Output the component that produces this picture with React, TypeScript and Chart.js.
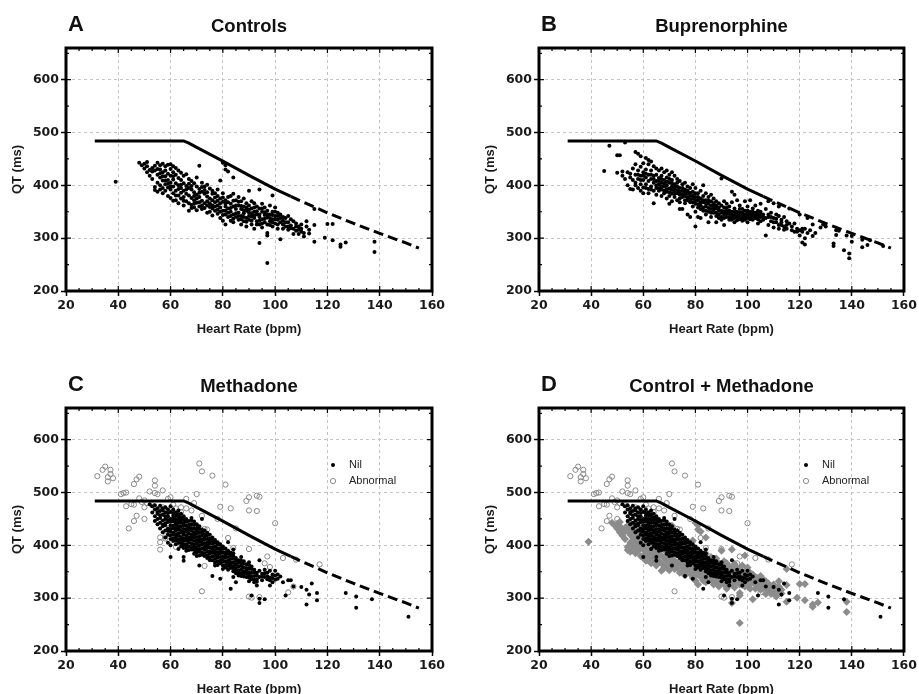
import React, { useEffect, useRef } from "react";
import { Chart, registerables } from "chart.js";
Chart.register(...registerables);

// ---------- axes ----------
const xTicks = [20, 40, 60, 80, 100, 120, 140, 160];
const yTicks = [200, 300, 400, 500, 600];
const xMin = 20, xMax = 160, yMin = 200, yMax = 660;
const xMinorStep = 5, yMinorStep = 50;

// ---------- reference nomogram line ----------
const refSolidHR = [31, 65, 67, 70, 80, 90, 100, 106];
const refSolidQT = [484, 484, 480, 472, 446, 419, 393, 379];
const refDashedHR = [106, 110, 120, 130, 140, 150, 155];
const refDashedQT = [379, 370, 348, 328, 309, 291, 281];

const legendLabels = ["Nil", "Abnormal"];

// ---------- A: Controls (HR, QT) ----------
const controlsPts = [
  [39,407],
  [48,443],[49,438],[50,441],[50,432],[51,436],[52,429],[51,425],[52,418],[53,433],[53,412],[54,437],[54,428],[54,397],[54,391],
  [55,443],[55,420],[55,405],[55,388],[56,438],[56,430],[56,415],[56,400],[56,392],[57,441],[57,425],[57,409],[57,395],[57,385],
  [58,436],[58,428],[58,417],[58,402],[58,390],[59,439],[59,422],[59,410],[59,396],[59,380],[60,440],[60,431],[60,418],[60,405],
  [60,392],[60,376],[61,436],[61,425],[61,411],[61,398],[61,385],[61,371],[62,433],[62,420],[62,404],[62,390],[62,372],[63,428],
  [63,414],[63,400],[63,381],[63,366],[64,424],[64,410],[64,395],[64,386],[64,375],[65,418],[65,404],[65,390],[65,378],[65,362],
  [66,421],[66,399],[66,384],[66,370],[67,412],[67,395],[67,381],[67,352],[68,408],[68,392],[68,376],[68,363],[69,404],[69,387],
  [69,372],[69,358],[70,415],[70,398],[70,382],[70,367],[71,437],[71,393],[71,378],[71,360],[72,405],[72,388],[72,371],[72,355],
  [73,398],[73,384],[73,366],[74,401],[74,379],[74,362],[74,348],[75,394],[75,375],[75,359],[76,390],[76,372],[76,356],[76,343],
  [77,385],[77,368],[77,352],[78,392],[78,380],[78,362],[78,346],[79,409],[79,375],[79,358],[79,338],[80,443],[80,385],[80,369],
  [80,352],[80,333],[81,438],[81,430],[81,372],[81,360],[81,345],[81,326],[82,426],[82,378],[82,356],[82,340],[83,380],[83,365],
  [83,350],[83,333],[84,415],[84,384],[84,360],[84,345],[84,330],[85,372],[85,355],[85,340],[86,378],[86,362],[86,348],[86,335],
  [87,370],[87,355],[87,342],[87,326],[88,375],[88,360],[88,347],[88,332],[89,366],[89,352],[89,338],[89,322],[90,390],[90,362],
  [90,348],[90,335],[91,370],[91,356],[91,341],[91,326],[92,366],[92,350],[92,338],[92,318],[93,360],[93,345],[93,332],[94,392],
  [94,356],[94,340],[94,326],[94,291],[95,365],[95,350],[95,336],[95,320],[96,358],[96,344],[96,330],[97,352],[97,339],[97,310],
  [97,305],[97,253],[98,362],[98,345],[98,332],[99,381],[99,350],[99,336],[99,322],[100,358],[100,342],[100,328],[101,348],
  [101,335],[101,318],[102,345],[102,330],[102,298],[103,340],[103,326],[104,338],[104,322],[105,342],[105,330],[105,316],
  [106,336],[106,324],[107,332],[107,318],[107,308],[108,328],[108,314],[109,322],[109,308],[110,326],[110,312],[111,303],
  [112,332],[113,316],[115,355],[115,325],[115,293],[119,301],[120,327],[122,327],[122,296],[125,288],[125,284],[127,292],
  [138,293],[138,274],
  [51,444],[53,426],[55,431],[56,423],[57,417],[58,409],[59,403],[60,398],[61,417],[62,381],[63,393],[64,401],[65,371],[66,392],
  [67,403],[67,366],[68,399],[68,357],[69,380],[69,365],[70,375],[70,353],[71,386],[71,368],[72,397],[72,362],[73,391],[73,357],
  [74,387],[74,370],[75,366],[75,350],[76,384],[76,362],[77,377],[77,360],[78,371],[78,354],[79,366],[79,350],[80,377],[80,344],
  [81,365],[81,352],[82,368],[82,348],[83,357],[83,342],[84,371],[84,337],[85,362],[85,347],[86,369],[86,342],[87,361],[87,336],
  [88,353],[88,340],[89,358],[89,331],[90,354],[90,342],[91,347],[91,333],[92,358],[92,343],[93,351],[93,326],[94,345],[94,333],
  [95,356],[95,328],[96,349],[96,337],[97,345],[97,326],[98,338],[98,325],[99,344],[99,330],[100,350],[100,336],[101,342],
  [101,326],[102,338],[103,333],[103,318],[104,330],[105,322],[106,319],[108,322],[109,316],[110,318],[111,310],[112,322],[113,309],
];

// ---------- B: Buprenorphine ----------
const buprenorphinePts = [
  [45,427],[47,475],[50,457],[51,457],[50,424],[52,426],[52,418],[53,481],[53,412],[54,400],[54,425],[55,422],[55,393],[56,410],
  [56,432],[56,392],[57,463],[57,440],[57,420],[57,400],[58,460],[58,428],[58,412],[58,395],[59,455],[59,435],[59,418],[59,402],
  [59,390],[60,442],[60,425],[60,410],[60,396],[60,385],[61,452],[61,430],[61,415],[61,402],[62,448],[62,440],[62,420],[62,408],
  [62,393],[62,385],[63,445],[63,428],[63,412],[63,398],[64,436],[64,418],[64,405],[64,390],[64,366],[65,432],[65,420],[65,408],
  [65,395],[65,382],[66,428],[66,414],[66,402],[66,390],[67,432],[67,418],[67,405],[67,392],[67,380],[68,425],[68,410],[68,398],
  [68,385],[69,428],[69,415],[69,400],[69,388],[69,375],[70,420],[70,405],[70,394],[70,380],[70,365],[71,425],[71,410],[71,398],
  [71,384],[71,370],[72,418],[72,402],[72,390],[72,378],[73,412],[73,398],[73,385],[73,372],[74,408],[74,395],[74,382],[74,368],
  [74,355],[75,402],[75,390],[75,378],[75,355],[76,405],[76,392],[76,380],[76,366],[77,398],[77,384],[77,372],[77,345],[78,395],
  [78,380],[78,368],[78,340],[79,402],[79,388],[79,375],[79,360],[80,395],[80,378],[80,365],[80,350],[80,322],[81,385],[81,372],
  [81,358],[81,340],[82,390],[82,375],[82,362],[82,338],[83,400],[83,380],[83,368],[83,352],[84,385],[84,372],[84,360],[84,345],
  [85,378],[85,365],[85,350],[85,330],[86,382],[86,370],[86,355],[86,340],[87,375],[87,360],[87,348],[88,370],[88,356],[88,342],
  [88,330],[89,366],[89,352],[89,338],[90,413],[90,362],[90,348],[90,335],[91,370],[91,358],[91,345],[91,325],[92,365],[92,352],
  [92,340],[93,360],[93,346],[93,335],[94,388],[94,368],[94,350],[94,340],[95,382],[95,356],[95,344],[95,330],[96,372],[96,350],
  [96,340],[97,362],[97,348],[97,336],[98,355],[98,344],[98,333],[99,370],[99,352],[99,340],[100,360],[100,348],[100,338],
  [100,330],[101,372],[101,350],[101,340],[102,356],[102,345],[102,335],[103,362],[103,348],[103,338],[104,352],[104,342],
  [104,328],[105,365],[105,350],[105,340],[106,345],[106,335],[107,355],[107,305],[108,370],[108,340],[108,325],[109,348],
  [109,332],[110,366],[110,338],[110,320],[111,345],[111,330],[112,360],[112,342],[112,318],[113,335],[113,325],[114,340],
  [114,322],[115,332],[115,318],[116,356],[116,328],[117,322],[118,328],[118,312],[119,318],[120,345],[120,315],[120,305],
  [121,312],[121,292],[122,318],[122,300],[122,288],[123,338],[124,315],[125,326],[125,304],[126,310],[128,320],[129,326],
  [130,322],[133,285],[133,290],[134,315],[134,306],[135,314],[137,277],[138,305],[139,271],[139,262],[140,293],[140,304],
  [144,297],[144,283],[146,287],[147,296],[152,285],
  [55,415],[57,405],[58,420],[59,410],[60,418],[61,395],[61,422],[63,420],[63,392],[64,412],[65,400],[66,408],[66,395],[67,412],
  [67,398],[68,403],[68,390],[69,407],[69,393],[70,412],[70,387],[71,404],[71,391],[72,396],[72,384],[73,405],[73,391],[74,388],
  [74,375],[75,395],[75,383],[76,386],[76,372],[77,390],[77,377],[78,386],[78,373],[79,381],[79,368],[80,372],[80,385],[81,378],
  [81,364],[82,368],[82,355],[83,372],[83,358],[84,366],[84,352],[85,371],[85,357],[86,362],[86,348],[87,366],[87,354],[88,362],
  [88,348],[89,358],[89,345],[90,352],[90,340],[91,351],[91,338],[92,357],[92,346],[93,352],[93,340],[94,345],[94,335],[95,350],
  [95,338],[96,345],[96,334],[97,355],[97,342],[98,348],[98,338],[99,345],[99,335],[100,343],[100,352],[101,345],[101,336],
  [102,350],[102,340],[103,343],[104,346],[104,336],[105,345],[105,332],[106,340],[107,338],[108,345],[109,340],[110,330],
  [111,337],[112,325],[113,330],[114,316],[115,325],[117,315],[119,312],[121,318],[123,310],
];

// ---------- C: Methadone, Nil ----------
const methNilPts = [
  [52,478],[53,474],[53,462],[54,476],[54,468],[54,455],[54,446],[55,470],[55,460],[55,450],[55,440],[56,475],[56,465],[56,452],
  [56,443],[56,432],[57,470],[57,458],[57,447],[57,436],[57,425],[58,472],[58,462],[58,450],[58,438],[58,428],[58,415],[59,468],
  [59,455],[59,444],[59,432],[59,420],[59,405],[60,474],[60,463],[60,450],[60,438],[60,426],[60,412],[60,400],[60,378],[61,468],
  [61,456],[61,445],[61,432],[61,420],[61,408],[62,462],[62,450],[62,440],[62,428],[62,415],[62,402],[63,466],[63,455],[63,443],
  [63,430],[63,418],[63,405],[63,393],[64,460],[64,448],[64,436],[64,424],[64,410],[64,398],[65,455],[65,443],[65,431],[65,420],
  [65,408],[65,395],[65,378],[65,371],[66,450],[66,438],[66,426],[66,414],[66,402],[66,390],[67,446],[67,434],[67,422],[67,410],
  [67,398],[68,452],[68,440],[68,428],[68,416],[68,404],[68,392],[69,445],[69,432],[69,420],[69,408],[69,396],[69,384],[70,440],
  [70,428],[70,416],[70,404],[70,392],[70,380],[71,436],[71,424],[71,412],[71,400],[71,388],[71,362],[72,450],[72,430],[72,418],
  [72,406],[72,394],[72,382],[73,428],[73,416],[73,404],[73,392],[73,380],[74,424],[74,412],[74,400],[74,388],[74,376],[75,420],
  [75,408],[75,396],[75,384],[75,372],[76,415],[76,403],[76,391],[76,379],[76,342],[77,410],[77,398],[77,386],[77,374],[77,362],
  [78,406],[78,394],[78,382],[78,370],[79,402],[79,390],[79,378],[79,366],[79,337],[80,398],[80,386],[80,374],[80,362],[81,394],
  [81,382],[81,370],[81,358],[82,406],[82,390],[82,378],[82,366],[82,354],[83,386],[83,374],[83,362],[83,318],[84,392],[84,380],
  [84,368],[84,356],[84,340],[85,376],[85,364],[85,352],[85,330],[86,372],[86,360],[86,348],[87,378],[87,366],[87,354],[87,342],
  [88,370],[88,358],[88,346],[89,364],[89,352],[89,340],[90,368],[90,356],[90,344],[90,332],[91,360],[91,348],[91,336],[91,305],
  [92,354],[92,342],[92,330],[93,348],[93,336],[93,324],[94,372],[94,352],[94,340],[94,291],[94,299],[95,346],[95,334],[96,354],
  [96,340],[96,298],[97,348],[97,336],[98,352],[98,334],[98,324],[99,345],[99,330],[100,352],[100,343],[100,335],[102,341],
  [103,330],[104,305],[105,334],[106,334],[107,322],[110,321],[112,316],[112,288],[113,307],[114,328],[116,310],[116,296],
  [127,310],[131,303],[131,282],[137,298],[151,265],
  [55,463],[56,457],[57,466],[57,439],[58,455],[58,442],[59,461],[59,448],[59,427],[60,445],[60,431],[60,419],[61,461],[61,451],
  [61,437],[61,424],[61,413],[62,457],[62,444],[62,433],[62,421],[62,409],[63,459],[63,449],[63,436],[63,423],[63,411],[64,453],
  [64,443],[64,429],[64,416],[64,404],[65,449],[65,438],[65,425],[65,413],[65,401],[66,445],[66,431],[66,419],[66,409],[66,396],
  [67,439],[67,429],[67,415],[67,405],[67,391],[68,447],[68,433],[68,421],[68,411],[68,397],[69,439],[69,425],[69,415],[69,401],
  [69,391],[70,433],[70,423],[70,409],[70,397],[70,387],[71,431],[71,417],[71,407],[71,393],[71,381],[72,425],[72,411],[72,401],
  [72,387],[73,421],[73,411],[73,397],[73,385],[74,419],[74,405],[74,395],[74,381],[75,413],[75,403],[75,389],[75,377],[76,409],
  [76,396],[76,386],[76,372],[77,405],[77,391],[77,381],[77,367],[78,401],[78,387],[78,377],[78,363],[79,395],[79,385],[79,371],
  [80,393],[80,379],[80,369],[80,355],[81,387],[81,377],[81,363],[82,385],[82,371],[82,361],[83,381],[83,367],[83,357],[84,385],
  [84,375],[84,361],[84,351],[85,371],[85,357],[85,347],[86,367],[86,353],[86,343],[87,371],[87,361],[87,347],[88,365],[88,351],
  [88,341],[89,357],[89,347],[90,363],[90,349],[90,339],[91,355],[91,341],[92,349],[92,335],[93,343],[93,331],[95,341],[96,347],
  [97,341],[98,339],[99,338],[101,345],[101,337],
];

// ---------- C: Methadone, Abnormal ----------
const methAbnormalPts = [
  [32,531],[34,543],[35,549],[36,529],[36,521],[37,543],[37,535],[38,527],[41,497],[42,499],[43,500],[43,474],[44,432],[45,478],
  [46,477],[46,516],[46,446],[47,525],[47,456],[48,530],[48,489],[49,482],[50,485],[50,472],[50,450],[51,480],[52,502],[53,476],
  [54,523],[54,513],[54,499],[55,497],[56,415],[56,406],[56,392],[57,504],[57,472],[58,417],[58,413],[59,488],[59,466],[60,491],
  [61,477],[62,470],[62,447],[62,397],[64,472],[64,463],[64,403],[66,488],[66,470],[67,412],[68,466],[68,434],[69,480],[70,497],
  [70,434],[71,555],[72,540],[72,456],[72,313],[73,431],[73,406],[73,361],[74,430],[76,532],[76,390],[78,450],[79,473],[81,515],
  [82,414],[83,470],[84,395],[85,432],[89,484],[89,346],[90,491],[90,466],[90,393],[90,303],[91,301],[93,494],[93,465],[94,492],
  [94,302],[96,366],[97,379],[98,359],[100,442],[103,376],[105,311],[107,322],[108,373],[117,364],
];

const toXY = (pts: number[][]) => pts.map(([x, y]) => ({ x, y }));
const zipXY = (xs: number[], ys: number[]) => xs.map((x, i) => ({ x, y: ys[i] }));

const TICK_FONT = { family: '"DejaVu Sans", sans-serif', size: 12.5, weight: "bold" as const };
const AXIS_TITLE_FONT = { family: '"Liberation Sans", Arial, sans-serif', size: 13, weight: "bold" as const };

type Spec = {
  letter: string;
  title: string;
  left: number;
  top: number;
  width: number;
  height: number;
  area: [number, number, number, number];
  kind: "controls" | "bup" | "meth" | "combo";
};

const specs: Spec[] = [
  { letter: "A", title: "Controls", left: 0, top: 0, width: 460, height: 347, area: [66, 48, 432, 291], kind: "controls" },
  { letter: "B", title: "Buprenorphine", left: 460, top: 0, width: 459, height: 347, area: [79, 48, 445, 291], kind: "bup" },
  { letter: "C", title: "Methadone", left: 0, top: 347, width: 460, height: 360, area: [66, 61, 432, 304], kind: "meth" },
  { letter: "D", title: "Control + Methadone", left: 460, top: 347, width: 459, height: 360, area: [79, 61, 445, 304], kind: "combo" },
];

const Y_AXIS_W = 66;
const X_AXIS_H = 56;

const decorPlugin = {
  id: "decor",
  afterDatasetsDraw(chart: any) {
    const { ctx, chartArea } = chart;
    const { left, right, top, bottom } = chartArea;
    const xs = chart.scales.x, ys = chart.scales.y;
    ctx.save();
    ctx.strokeStyle = "#000";
    ctx.lineWidth = 1.2;
    ctx.beginPath();
    for (let v = xMin; v <= xMax; v += xMinorStep) {
      const px = xs.getPixelForValue(v);
      const len = xTicks.includes(v) ? 5 : 3;
      ctx.moveTo(px, bottom); ctx.lineTo(px, bottom - len);
      ctx.moveTo(px, top); ctx.lineTo(px, top + len);
    }
    for (let v = yMin; v <= yMax; v += yMinorStep) {
      const py = ys.getPixelForValue(v);
      const len = yTicks.includes(v) ? 5 : 3;
      ctx.moveTo(left, py); ctx.lineTo(left + len, py);
      ctx.moveTo(right, py); ctx.lineTo(right - len, py);
    }
    ctx.stroke();
    ctx.lineWidth = 3;
    ctx.strokeRect(left, top, right - left, bottom - top);
    ctx.restore();
  },
  afterDraw(chart: any, _args: any, opts: any) {
    const { ctx, chartArea } = chart;
    const { left, right, top } = chartArea;
    ctx.save();
    ctx.fillStyle = "#111";
    ctx.textBaseline = "middle";
    ctx.textAlign = "left";
    ctx.font = 'bold 22px "Liberation Sans", Arial, sans-serif';
    ctx.fillText(opts.letter, left + 2, top - 23);
    ctx.textAlign = "center";
    ctx.font = 'bold 18.5px "Liberation Sans", Arial, sans-serif';
    ctx.fillText(opts.title, (left + right) / 2, top - 21);
    if (opts.legend) {
      const mx = left + 267, tx = left + 283, y1 = top + 57, y2 = top + 73;
      ctx.fillStyle = "#000";
      ctx.beginPath(); ctx.arc(mx, y1, 2, 0, Math.PI * 2); ctx.fill();
      ctx.strokeStyle = "#8a8a8a"; ctx.lineWidth = 1;
      ctx.beginPath(); ctx.arc(mx, y2, 2.6, 0, Math.PI * 2); ctx.stroke();
      ctx.fillStyle = "#222";
      ctx.textAlign = "left";
      ctx.font = '11px "Liberation Sans", Arial, sans-serif';
      ctx.fillText(legendLabels[0], tx, y1);
      ctx.fillText(legendLabels[1], tx, y2);
    }
    ctx.restore();
  },
};

function buildDatasets(kind: Spec["kind"]) {
  const lines: any[] = [
    { label: "ref", data: zipXY(refSolidHR, refSolidQT), showLine: true, borderColor: "#000", borderWidth: 3, pointRadius: 0, fill: false },
    { label: "ref2", data: zipXY(refDashedHR, refDashedQT), showLine: true, borderColor: "#000", borderWidth: 3, borderDash: [10, 5], pointRadius: 0, fill: false },
  ];
  const dots = (pts: number[][], label: string) => ({
    label, data: toXY(pts), pointRadius: 2, pointStyle: "circle", backgroundColor: "#000", borderColor: "#000", borderWidth: 0, showLine: false,
  });
  const circles = {
    label: legendLabels[1], data: toXY(methAbnormalPts), pointRadius: 2.6, pointStyle: "circle", backgroundColor: "rgba(0,0,0,0)", borderColor: "#8a8a8a", borderWidth: 1, showLine: false,
  };
  const diamonds = {
    label: "Controls", data: toXY(controlsPts), pointRadius: 4, pointStyle: "rectRot", backgroundColor: "#8c8c8c", borderColor: "#8c8c8c", borderWidth: 0, showLine: false,
  };
  if (kind === "controls") return [...lines, dots(controlsPts, "Controls")];
  if (kind === "bup") return [...lines, dots(buprenorphinePts, "Buprenorphine")];
  if (kind === "meth") return [...lines, dots(methNilPts, legendLabels[0]), circles];
  return [...lines, dots(methNilPts, legendLabels[0]), diamonds, circles];
}

function Panel({ spec }: { spec: Spec }) {
  const ref = useRef<HTMLCanvasElement>(null);
  useEffect(() => {
    const [l, t, r, b] = spec.area;
    const chart = new Chart(ref.current as HTMLCanvasElement, {
      type: "scatter",
      data: { datasets: buildDatasets(spec.kind) as any },
      plugins: [decorPlugin as any],
      options: {
        animation: false,
        responsive: false,
        events: [],
        layout: { padding: { left: l - Y_AXIS_W, top: t, right: spec.width - r, bottom: spec.height - b - X_AXIS_H } },
        plugins: {
          legend: { display: false },
          tooltip: { enabled: false },
          title: { display: false },
          decor: { letter: spec.letter, title: spec.title, legend: spec.kind === "meth" || spec.kind === "combo" },
        } as any,
        scales: {
          x: {
            type: "linear",
            min: xMin,
            max: xMax,
            afterBuildTicks: (s: any) => { s.ticks = xTicks.map((v) => ({ value: v })); },
            afterFit: (s: any) => { s.height = X_AXIS_H; },
            ticks: { font: TICK_FONT, color: "#1a1a1a", padding: 2, maxRotation: 0, autoSkip: false },
            grid: { color: "#c4c4c4", lineWidth: 1, drawTicks: true, tickLength: 5, tickColor: "#000", tickWidth: 1.5 },
            border: { display: false, dash: [3, 3] },
            title: { display: true, text: "Heart Rate (bpm)", font: AXIS_TITLE_FONT, color: "#1a1a1a", padding: { top: 0, bottom: 10.2 } },
          },
          y: {
            type: "linear",
            min: yMin,
            max: yMax,
            afterBuildTicks: (s: any) => { s.ticks = yTicks.map((v) => ({ value: v })); },
            afterFit: (s: any) => { s.width = Y_AXIS_W; },
            ticks: { font: TICK_FONT, color: "#1a1a1a", padding: 2, autoSkip: false },
            grid: { color: "#c4c4c4", lineWidth: 1, drawTicks: true, tickLength: 5, tickColor: "#000", tickWidth: 1.5 },
            border: { display: false, dash: [3, 3] },
            title: { display: true, text: "QT (ms)", font: AXIS_TITLE_FONT, color: "#1a1a1a", padding: { top: 9.2, bottom: 0 } },
          },
        },
      } as any,
    });
    return () => chart.destroy();
  }, []);
  return (
    <div style={{ position: "absolute", left: spec.left, top: spec.top, width: spec.width, height: spec.height }}>
      <canvas ref={ref} width={spec.width} height={spec.height} style={{ display: "block", width: spec.width, height: spec.height }} />
    </div>
  );
}

export default function App() {
  return (
    <div style={{ position: "absolute", left: 0, top: 0, width: 919, height: 694, overflow: "hidden", background: "#fff" }}>
      {specs.map((s) => (
        <Panel key={s.letter} spec={s} />
      ))}
    </div>
  );
}
